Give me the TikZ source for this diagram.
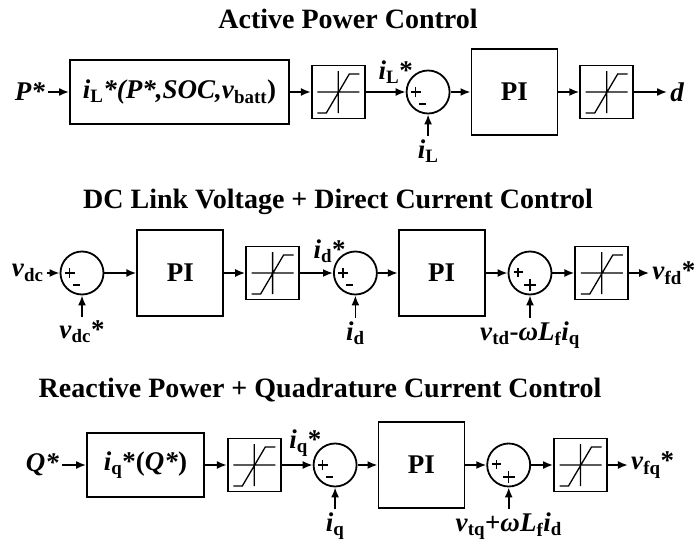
\documentclass[tikz,border=0pt]{standalone}
\usepackage{fontspec}
\setmainfont{Liberation Serif}
\usetikzlibrary{arrows.meta, positioning}

\newcommand{\vr}[1]{\textit{#1}}
\newcommand{\sbs}[1]{\textsubscript{#1}}

\begin{document}
\begin{tikzpicture}[
		x=1pt, y=1pt,
		font=\fontsize{27}{30}\selectfont\bfseries,
		blk/.style={draw, line width=1.8pt, inner sep=3pt, minimum height=64pt},
		pibox/.style={draw, line width=1.8pt, minimum width=86pt, minimum height=86pt},
		satbox/.style={draw, line width=1.8pt, minimum width=53pt, minimum height=53pt,
			path picture={\draw[line width=1.3pt, shift={(path picture bounding box.center)}]
				(-21,0) -- (21,0) (0,-21) -- (0,21) (-21,-21) -- (-12,-21) -- (11,18) -- (21,18);}},
		sumpm/.style={draw, circle, line width=1.8pt, minimum size=43pt, inner sep=0pt,
			path picture={\draw[line width=1.3pt, shift={(path picture bounding box.center)}]
				(-17.5,0) -- (-7.5,0) (-12.5,-5) -- (-12.5,5) (-9,-12) -- (-2,-12);}},
		sumpp/.style={draw, circle, line width=1.8pt, minimum size=43pt, inner sep=0pt,
			path picture={\draw[line width=1.3pt, shift={(path picture bounding box.center)}]
				(-16.5,1) -- (-7.5,1) (-12,-3.5) -- (-12,5.5) (-6,-12) -- (6,-12) (0,-18) -- (0,-6);}},
		lbl/.style={inner sep=3pt},
		ttl/.style={font=\fontsize{28}{30}\selectfont\bfseries, anchor=base},
		arr/.style={-{Latex[length=10pt, width=8pt]}, line width=1.8pt}
	]
		\useasboundingbox (0,0) rectangle (697,-541);

		% active power control
		\node[ttl] (t1) at (348,-28) {Active Power Control};
		\node[blk, minimum width=219pt] (map1) at (179.5,-92) {\vr{i}\sbs{L}\vr{*(P*,SOC,v}\sbs{batt})};
		\node[lbl, left=21pt of map1] (pstar) {\vr{P*}};
		\node[satbox, right=21pt of map1] (sat1) {};
		\node[sumpm, right=40pt of sat1] (sum1) {};
		\node[pibox, right=20pt of sum1] (pi1) {PI};
		\node[satbox, right=21pt of pi1] (sat2) {};
		\node[lbl, right=33pt of sat2] (dout) {\vr{d}};
		\node[lbl, below=22pt of sum1] (il) {\vr{i}\sbs{L}};

		\draw[arr] (pstar) -- (map1);
		\draw[arr] (map1) -- (sat1);
		\draw[arr] (sat1) -- node[lbl, above=5pt, pos=0.75] {\vr{i}\sbs{L}*} (sum1);
		\draw[arr] (il) -- (sum1);
		\draw[arr] (sum1) -- (pi1);
		\draw[arr] (pi1) -- (sat2);
		\draw[arr] (sat2) -- (dout);

		% dc link voltage + direct current control
		\node[ttl] (t2) at (338,-208) {DC Link Voltage + Direct Current Control};
		\node[sumpm] (sum2) at (82,-273) {};
		\node[lbl, left=13pt of sum2] (vdc) {\vr{v}\sbs{dc}};
		\node[pibox, right=32pt of sum2] (pi2) {PI};
		\node[satbox, right=21pt of pi2] (sat3) {};
		\node[sumpm, right=33pt of sat3] (sum3) {};
		\node[pibox, right=20pt of sum3] (pi3) {PI};
		\node[sumpp, right=22pt of pi3] (sum4) {};
		\node[satbox, right=22pt of sum4] (sat4) {};
		\node[lbl, right=20pt of sat4] (vfd) {\vr{v}\sbs{fd}*};
		\node[lbl, below=22pt of sum2] (vdcref) {\vr{v}\sbs{dc}*};
		\node[lbl, below=23pt of sum3] (id) {\vr{i}\sbs{d}};
		\node[lbl, below=23pt of sum4] (vtd) {\vr{v}\sbs{td}-\vr{ωL}\sbs{f}\vr{i}\sbs{q}};

		\draw[arr] (vdc) -- (sum2);
		\draw[arr] (vdcref) -- (sum2);
		\draw[arr] (sum2) -- (pi2);
		\draw[arr] (pi2) -- (sat3);
		\draw[arr] (sat3) -- node[lbl, above=6pt, pos=0.9] {\vr{i}\sbs{d}*} (sum3);
		\draw[arr] (id) -- (sum3);
		\draw[arr] (sum3) -- (pi3);
		\draw[arr] (pi3) -- (sum4);
		\draw[arr] (vtd) -- (sum4);
		\draw[arr] (sum4) -- (sat4);
		\draw[arr] (sat4) -- (vfd);

		% reactive power + quadrature current control
		\node[ttl] (t3) at (320,-397) {Reactive Power + Quadrature Current Control};
		\node[blk, minimum width=117pt] (map2) at (145.5,-465) {\vr{i}\sbs{q}*(\vr{Q*})};
		\node[lbl, left=24pt of map2] (qstar) {\vr{Q*}};
		\node[satbox, right=22pt of map2] (sat5) {};
		\node[sumpm, right=31pt of sat5] (sum5) {};
		\node[pibox, right=20pt of sum5] (pi4) {PI};
		\node[sumpp, right=21pt of pi4] (sum6) {};
		\node[satbox, right=22pt of sum6] (sat6) {};
		\node[lbl, right=20pt of sat6] (vfq) {\vr{v}\sbs{fq}*};
		\node[lbl, below=22pt of sum5] (iq) {\vr{i}\sbs{q}};
		\node[lbl, below=22pt of sum6] (vtq) {\vr{v}\sbs{tq}+\vr{ωL}\sbs{f}\vr{i}\sbs{d}};

		\draw[arr] (qstar) -- (map2);
		\draw[arr] (map2) -- (sat5);
		\draw[arr] (sat5) -- node[lbl, above=5pt, pos=0.76] {\vr{i}\sbs{q}*} (sum5);
		\draw[arr] (iq) -- (sum5);
		\draw[arr] (sum5) -- (pi4);
		\draw[arr] (pi4) -- (sum6);
		\draw[arr] (vtq) -- (sum6);
		\draw[arr] (sum6) -- (sat6);
		\draw[arr] (sat6) -- (vfq);
	\end{tikzpicture}
\end{document}
